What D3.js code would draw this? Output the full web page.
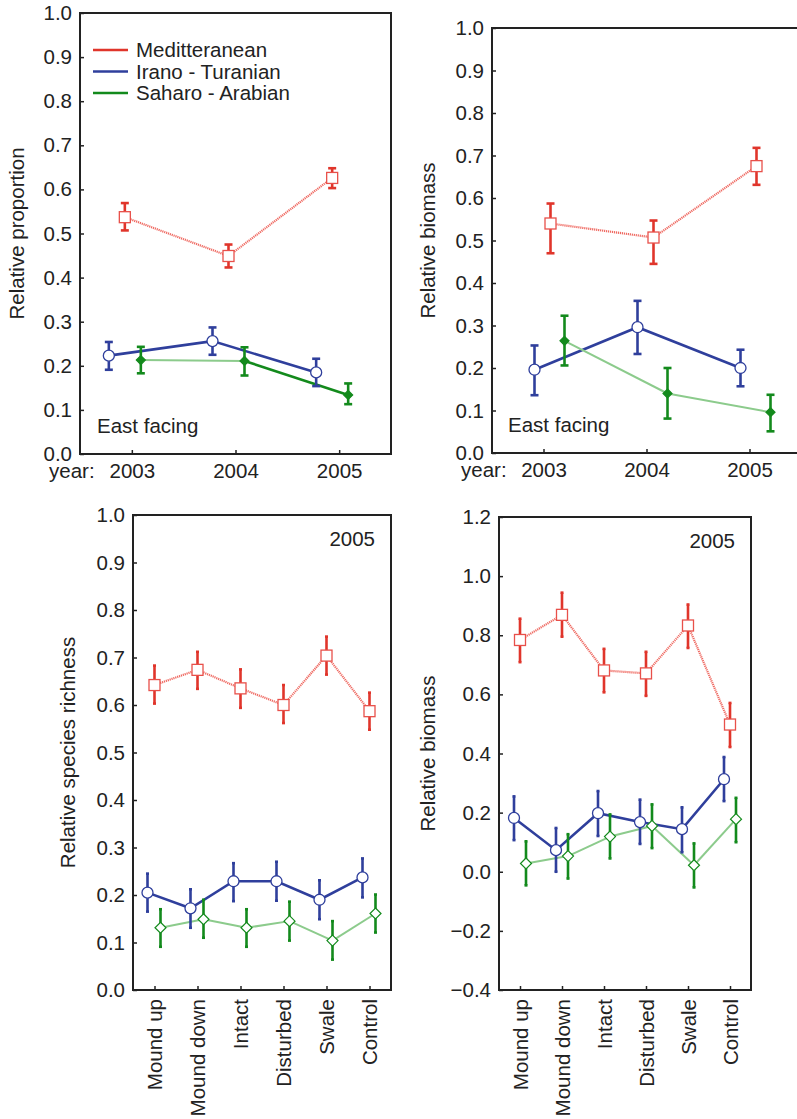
<!DOCTYPE html>
<html><head><meta charset="utf-8">
<script src="https://cdn.jsdelivr.net/npm/d3@7"></script>
<style>body{margin:0;background:#fff}svg{display:block}text{font-family:"Liberation Sans",Arial,sans-serif;fill:#222}</style>
</head><body>
<script>
// ---------- data ----------
const yearCats = ["2003", "2004", "2005"];
const siteCats = ["Mound up", "Mound down", "Intact", "Disturbed", "Swale", "Control"];
const seriesNames = ["Meditteranean", "Irano - Turanian", "Saharo - Arabian"];

// [mean, low, high]
const propMed = [[0.537, 0.507, 0.569], [0.449, 0.423, 0.475], [0.626, 0.603, 0.648]];
const propIrano = [[0.223, 0.191, 0.254], [0.256, 0.225, 0.287], [0.185, 0.154, 0.216]];
const propSaharo = [[0.213, 0.183, 0.243], [0.211, 0.178, 0.242], [0.134, 0.113, 0.160]];

const bioMed = [[0.540, 0.470, 0.587], [0.507, 0.445, 0.547], [0.675, 0.631, 0.718]];
const bioIrano = [[0.196, 0.136, 0.253], [0.296, 0.233, 0.358], [0.200, 0.157, 0.243]];
const bioSaharo = [[0.264, 0.206, 0.323], [0.140, 0.081, 0.200], [0.096, 0.051, 0.137]];

const richMed = [[0.642, 0.603, 0.683], [0.674, 0.634, 0.712], [0.635, 0.594, 0.675], [0.600, 0.562, 0.642], [0.704, 0.664, 0.744], [0.587, 0.548, 0.626]];
const richIrano = [[0.205, 0.165, 0.245], [0.172, 0.131, 0.212], [0.229, 0.187, 0.267], [0.229, 0.188, 0.270], [0.190, 0.149, 0.231], [0.237, 0.195, 0.277]];
const richSaharo = [[0.131, 0.091, 0.170], [0.149, 0.110, 0.190], [0.131, 0.091, 0.170], [0.145, 0.104, 0.186], [0.104, 0.064, 0.145], [0.161, 0.121, 0.201]];

const bio05Med = [[0.784, 0.709, 0.856], [0.869, 0.795, 0.944], [0.681, 0.607, 0.754], [0.671, 0.595, 0.744], [0.833, 0.757, 0.904], [0.498, 0.422, 0.571]];
const bio05Irano = [[0.182, 0.107, 0.255], [0.073, 0.000, 0.148], [0.198, 0.121, 0.273], [0.168, 0.094, 0.244], [0.144, 0.066, 0.218], [0.313, 0.239, 0.388]];
const bio05Saharo = [[0.028, -0.046, 0.103], [0.053, -0.023, 0.127], [0.119, 0.045, 0.194], [0.155, 0.080, 0.228], [0.022, -0.053, 0.096], [0.178, 0.100, 0.250]];

// segment line style for Saharo-Arabian in panel A
const propSaharoSegments = ["light", "solid"];

// ---------- styles ----------
const RED = "#e0352b", RED_LINE = "#ef6a62", BLUE = "#2f3f9c", GREEN = "#138a1c", GREEN_LIGHT = "#8ccb8c";
const FS = 20.5;
const FONT = '"Liberation Sans",Arial,sans-serif';

const W = 797, H = 1119;
const svg = d3.select("body").append("svg").attr("width", W).attr("height", H);

const panels = [
  {l: 80, t: 13, r: 391, b: 454, dom: [0, 1], cats: yearCats, med: propMed, ir: propIrano, sa: propSaharo,
   off: [-7, -23, 9], ylabel: "Relative proportion", ylx: 17, note: "East facing", noteX: 97, noteY: 433,
   legend: true, cap: 8, filledDiamond: true, years: true, yearX: 49, saSeg: propSaharoSegments},
  {l: 492, t: 28, r: 801, b: 453, dom: [0, 1], cats: yearCats, med: bioMed, ir: bioIrano, sa: bioSaharo,
   off: [7, -9, 21], ylabel: "Relative biomass", ylx: 428, note: "East facing", noteX: 508, noteY: 432,
   legend: false, cap: 8, filledDiamond: true, years: true, yearX: 461, saSeg: ["light", "light"]},
  {l: 133, t: 515, r: 391, b: 990, dom: [0, 1], cats: siteCats, med: richMed, ir: richIrano, sa: richSaharo,
   off: [0, -7, 6], ylabel: "Relative species richness", ylx: 68, tag: "2005", tagX: 375, tagY: 546,
   legend: false, cap: 3, filledDiamond: false, years: false},
  {l: 499, t: 517, r: 751, b: 990, dom: [-0.4, 1.2], cats: siteCats, med: bio05Med, ir: bio05Irano, sa: bio05Saharo,
   off: [0, -6, 6], ylabel: "Relative biomass", ylx: 428, tag: "2005", tagX: 735, tagY: 548,
   legend: false, cap: 3, filledDiamond: false, years: false}
];

panels.forEach(p => {
  const g = svg.append("g");
  const y = d3.scaleLinear().domain(p.dom).range([p.b, p.t]);
  const x = d3.scalePoint().domain(p.cats).range([p.l, p.r]).padding(0.5);

  // y axis
  const ya = g.append("g").attr("transform", `translate(${p.l},0)`)
    .call(d3.axisLeft(y).ticks(p.dom[1] - p.dom[0] > 1.2 ? 8 : 10).tickFormat(d3.format(".1f"))
      .tickSizeInner(-4).tickSizeOuter(0).tickPadding(8));
  ya.select(".domain").remove();
  ya.selectAll("line").attr("stroke", "#222").attr("stroke-width", 1.5);
  ya.selectAll("text").attr("font-size", FS).attr("fill", "#222").style("font-family", FONT);

  // x axis
  const xa = g.append("g").attr("transform", `translate(0,${p.b})`)
    .call(d3.axisBottom(x).tickSizeInner(-4).tickSizeOuter(0).tickPadding(p.years ? 9.5 : 8));
  xa.select(".domain").remove();
  xa.selectAll("line").attr("stroke", "#222").attr("stroke-width", 1.5);
  xa.selectAll("text").attr("font-size", FS).attr("fill", "#222").style("font-family", FONT);
  if (!p.years) {
    xa.selectAll("text").attr("transform", "rotate(-90)").attr("text-anchor", "end")
      .attr("x", -9).attr("y", 0).attr("dy", "0.35em");
  } else {
    g.append("text").attr("x", p.yearX).attr("y", p.b + 9.5).attr("dy", "0.71em")
      .attr("font-size", FS).text("year:");
  }

  // frame
  g.append("rect").attr("x", p.l).attr("y", p.t).attr("width", p.r - p.l).attr("height", p.b - p.t)
    .attr("fill", "none").attr("stroke", "#222").attr("stroke-width", 2);

  // y label
  g.append("text").attr("transform", `translate(${p.ylx},${(p.t + p.b) / 2}) rotate(-90)`)
    .attr("text-anchor", "middle").attr("dy", "0.35em").attr("font-size", FS).text(p.ylabel);

  if (p.note) g.append("text").attr("x", p.noteX).attr("y", p.noteY).attr("font-size", FS).text(p.note);
  if (p.tag) g.append("text").attr("x", p.tagX).attr("y", p.tagY).attr("text-anchor", "end").attr("font-size", FS).text(p.tag);

  const px = (i, k) => x(p.cats[i]) + p.off[k];

  // lines
  const line = (data, k) => d3.line().x((d, i) => px(i, k)).y(d => y(d[0]))(data);
  g.append("path").attr("d", line(p.med, 0)).attr("fill", "none").attr("stroke", RED_LINE)
    .attr("stroke-width", 2.2).attr("stroke-dasharray", "1.2,0.8");
  g.append("path").attr("d", line(p.ir, 1)).attr("fill", "none").attr("stroke", BLUE).attr("stroke-width", 2.6);
  for (let i = 0; i < p.sa.length - 1; i++) {
    const st = p.saSeg ? p.saSeg[i] : "light";
    g.append("line").attr("x1", px(i, 2)).attr("y1", y(p.sa[i][0])).attr("x2", px(i + 1, 2)).attr("y2", y(p.sa[i + 1][0]))
      .attr("stroke", st === "solid" ? GREEN : GREEN_LIGHT).attr("stroke-width", st === "solid" ? 2.6 : 2);
  }

  // error bars
  const ebars = (data, k, color) => {
    data.forEach((d, i) => {
      const cx = px(i, k);
      g.append("line").attr("x1", cx).attr("x2", cx).attr("y1", y(d[1])).attr("y2", y(d[2]))
        .attr("stroke", color).attr("stroke-width", 2.6);
      [d[1], d[2]].forEach(v => g.append("line").attr("x1", cx - p.cap / 2).attr("x2", cx + p.cap / 2)
        .attr("y1", y(v)).attr("y2", y(v)).attr("stroke", color).attr("stroke-width", 2.6));
    });
  };
  ebars(p.med, 0, RED);
  ebars(p.ir, 1, BLUE);
  ebars(p.sa, 2, GREEN);

  // markers
  p.med.forEach((d, i) => g.append("rect").attr("x", px(i, 0) - 5.5).attr("y", y(d[0]) - 5.5).attr("width", 11).attr("height", 11)
    .attr("fill", "#fff").attr("stroke", "#e8504a").attr("stroke-width", 1.3));
  p.ir.forEach((d, i) => g.append("circle").attr("cx", px(i, 1)).attr("cy", y(d[0])).attr("r", 5.5)
    .attr("fill", "#fff").attr("stroke", BLUE).attr("stroke-width", 1.3));
  p.sa.forEach((d, i) => {
    const cx = px(i, 2), cy = y(d[0]), s = p.filledDiamond ? 4.5 : 5.5;
    g.append("path").attr("d", `M${cx},${cy - s}L${cx + s},${cy}L${cx},${cy + s}L${cx - s},${cy}Z`)
      .attr("fill", p.filledDiamond ? GREEN : "#fff").attr("stroke", GREEN).attr("stroke-width", 1.2);
  });

  // legend
  if (p.legend) {
    const cols = [RED, BLUE, GREEN];
    seriesNames.forEach((n, i) => {
      const ly = 50 + i * 21.5;
      g.append("line").attr("x1", 93).attr("x2", 128).attr("y1", ly).attr("y2", ly).attr("stroke", cols[i]).attr("stroke-width", 2.5);
      g.append("text").attr("x", 136).attr("y", ly).attr("dy", "0.35em").attr("font-size", FS).text(n);
    });
  }
});
</script>
</body></html>
